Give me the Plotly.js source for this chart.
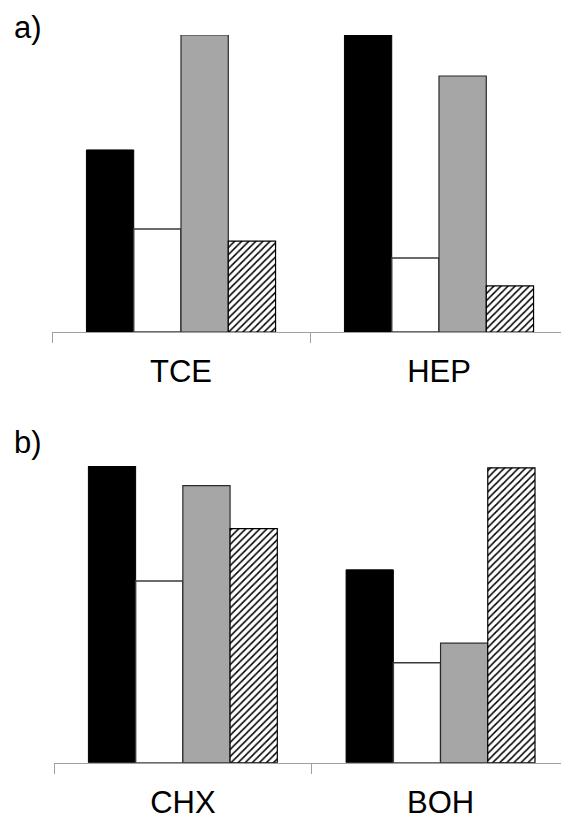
<!DOCTYPE html>
<html>
<head>
<meta charset="utf-8">
<script src="https://cdn.plot.ly/plotly-3.0.1.min.js"></script>
<style>html,body{margin:0;padding:0;background:#fff;}#chart{width:561px;height:820px;}</style>
</head>
<body>
<div id="chart"></div>
<script>
// Data (relative heights, tallest bar of each panel = 100)
const categoriesA = ["TCE", "HEP"];
const categoriesB = ["CHX", "BOH"];
const seriesNames = ["S1", "S2", "S3", "S4"];
const valuesA = {
  S1: [61.3, 100],
  S2: [34.7, 24.9],
  S3: [100, 86.2],
  S4: [30.6, 15.5]
};
const valuesB = {
  S1: [100, 65.0],
  S2: [61.2, 33.7],
  S3: [93.4, 40.3],
  S4: [78.9, 99.4]
};
const panelLabels = ["a)", "b)"];

const styles = {
  S1: {color: "#000000", line: {color: "#000000", width: 1}},
  S2: {color: "#ffffff", line: {color: "#3a3a3a", width: 1.5}},
  S3: {color: "#a6a6a6", line: {color: "#2a2a2a", width: 1.2}},
  S4: {color: "#ffffff", line: {color: "#000000", width: 1.2},
       pattern: {shape: "/", fgcolor: "#000000", bgcolor: "#ffffff", size: 5, solidity: 0.3}}
};

const traces = [];
seriesNames.forEach(s => {
  traces.push({type: "bar", x: categoriesA, y: valuesA[s], xaxis: "x", yaxis: "y",
    marker: styles[s], showlegend: false, hoverinfo: "none"});
});
seriesNames.forEach(s => {
  traces.push({type: "bar", x: categoriesB, y: valuesB[s], xaxis: "x2", yaxis: "y2",
    marker: styles[s], showlegend: false, hoverinfo: "none"});
});

const W = 561, H = 820;
function xax(left, unit, anchor) {
  return {
    domain: [left / W, 1],
    range: [-0.5, -0.5 + (W - left) / unit],
    type: "category",
    anchor: anchor,
    showline: true, linecolor: "#a0a0a0", linewidth: 1,
    ticks: "outside", tickson: "boundaries", ticklen: 10, tickcolor: "#a0a0a0", tickwidth: 1,
    ticklabelstandoff: 12,
    showgrid: false, zeroline: false,
    tickfont: {family: "Liberation Sans, Arial, sans-serif", size: 31, color: "#000"},
    fixedrange: true
  };
}
function yax(bottomPx, topPx, anchor) {
  return {
    domain: [1 - bottomPx / H, 1 - topPx / H],
    range: [0, 100],
    anchor: anchor,
    visible: false,
    showgrid: false, zeroline: false, fixedrange: true
  };
}

const layout = {
  width: W, height: H,
  margin: {l: 0, r: 0, t: 0, b: 0},
  paper_bgcolor: "#ffffff", plot_bgcolor: "rgba(0,0,0,0)",
  barmode: "group", bargap: 0.267, bargroupgap: 0,
  showlegend: false,
  xaxis: xax(52, 258, "y"),
  yaxis: yax(332, 35, "x"),
  xaxis2: xax(54, 257.7, "y2"),
  yaxis2: yax(762.7, 466, "x2"),
  annotations: [
    {text: panelLabels[0], xref: "paper", yref: "paper", x: 12 / W, y: 1 - 8 / H,
     xanchor: "left", yanchor: "top", showarrow: false,
     font: {family: "Liberation Sans, Arial, sans-serif", size: 31, color: "#000"}},
    {text: panelLabels[1], xref: "paper", yref: "paper", x: 12 / W, y: 1 - 423 / H,
     xanchor: "left", yanchor: "top", showarrow: false,
     font: {family: "Liberation Sans, Arial, sans-serif", size: 31, color: "#000"}}
  ]
};

Plotly.newPlot("chart", traces, layout, {staticPlot: true, displayModeBar: false});
</script>
</body>
</html>
